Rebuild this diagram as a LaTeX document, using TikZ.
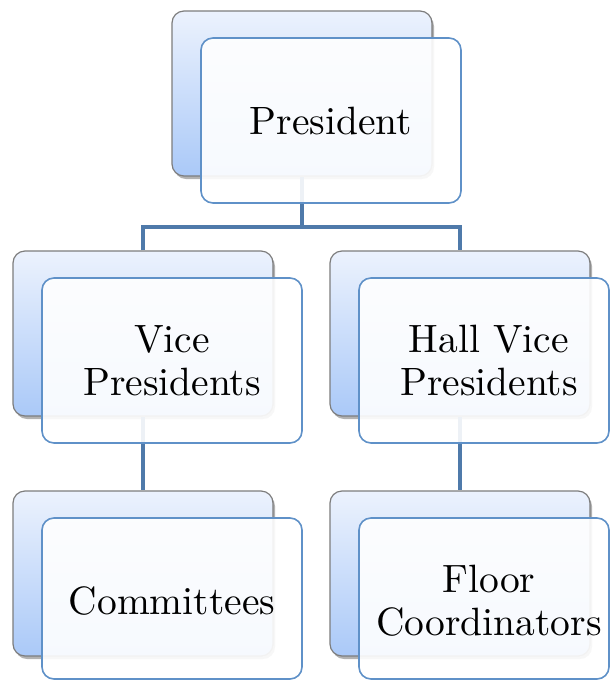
\documentclass[tikz,border=0pt]{standalone}
\usepackage{fontspec}
\newfontfamily\lmten{lmroman10-regular}[Extension=.otf]
\usetikzlibrary{shadows}
\definecolor{frontblue}{RGB}{95,145,200}
\definecolor{connblue}{RGB}{79,122,170}
\definecolor{backedge}{RGB}{125,125,125}
\definecolor{backtop}{RGB}{236,242,253}
\definecolor{backbot}{RGB}{170,201,248}
\begin{document}
\begin{tikzpicture}[x=1pt,y=-1pt,
  backbox/.style={draw=backedge, line width=1.2pt, rounded corners=12pt,
    minimum width=260pt, minimum height=165pt, inner sep=0pt,
    top color=backtop, bottom color=backbot,
    drop shadow={shadow xshift=2pt, shadow yshift=-3pt, opacity=0.3, fill=black}},
  frontbox/.style={draw=frontblue, line width=1.6pt, rounded corners=12pt,
    minimum width=260pt, minimum height=165pt, inner sep=0pt,
    fill=white, fill opacity=0.9},
  boxlabel/.style={align=center, inner sep=0pt,
    font=\lmten\fontsize{39.5}{43}\selectfont},
  conn/.style={draw=connblue, line width=4.5pt}]
\useasboundingbox (0,0) rectangle (610,681);
% back boxes
\node[backbox] (pb) at (302,93.5) {};
\node[backbox] (vb) at (143,333.5) {};
\node[backbox] (hb) at (460,333.5) {};
\node[backbox] (cb) at (143,573.5) {};
\node[backbox] (fb) at (460,573.5) {};
% connectors
\coordinate (j) at (302,227);
\draw[conn] (pb.south) -- (j);
\draw[conn] (vb.north) |- (j) -| (hb.north);
\draw[conn] (vb.south) -- (cb.north);
\draw[conn] (hb.south) -- (fb.north);
% front boxes
\node[frontbox] (pf) at (331,120.5) {};
\node[frontbox] (vf) at (172,360.5) {};
\node[frontbox, minimum width=250pt] (hf) at (484,360.5) {};
\node[frontbox, minimum height=161pt] (cf) at (172,598.5) {};
\node[frontbox, minimum width=250pt, minimum height=161pt] (ff) at (484,598.5) {};
% labels
\node[boxlabel] (pt) at (331,121) {President};
\node[boxlabel] (vt) at (172,361) {Vice\\Presidents};
\node[boxlabel] (ht) at (489,361) {Hall Vice\\Presidents};
\node[boxlabel] (ct) at (172,601) {Committees};
\node[boxlabel] (ft) at (489,601) {Floor\\Coordinators};
\end{tikzpicture}
\end{document}
